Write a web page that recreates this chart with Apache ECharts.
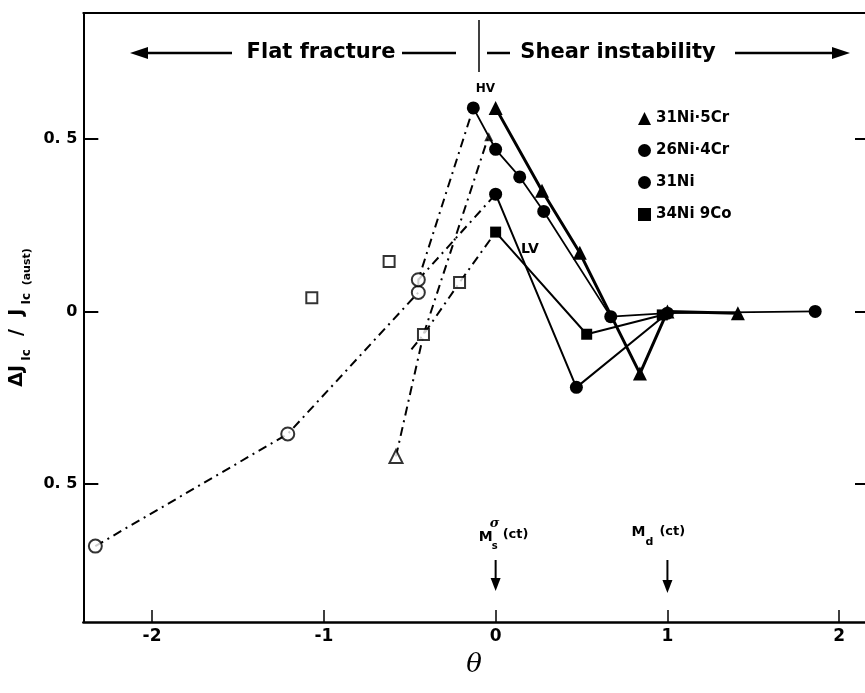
<!DOCTYPE html>
<html>
<head>
<meta charset="utf-8">
<script src="https://cdn.jsdelivr.net/npm/echarts@6/dist/echarts.min.js"></script>
<style>
html, body { margin: 0; padding: 0; background: #fff; }
#main { width: 865px; height: 693px; }
</style>
</head>
<body>
<div id="main"></div>
<script>
var xTicks = [-2, -1, 0, 1, 2];
var yTicks = [-0.5, 0, 0.5];

// filled symbols, solid lines
var ni5cr = [[0, 0.59], [0.27, 0.35], [0.49, 0.17], [0.84, -0.18], [1.0, 0.0], [1.41, -0.005]];
var ni4cr = [[-0.13, 0.59], [0, 0.47], [0.14, 0.39], [0.28, 0.29], [0.67, -0.015], [1.0, -0.005], [1.86, 0]];
var ni4crNoMark = [5];
var ni31 = [[0, 0.34], [0.47, -0.22], [1.0, -0.005]];
var ni9co = [[0, 0.23], [0.53, -0.066], [0.97, -0.01]];
var smallTri = [[-0.04, 0.506]];

// open symbols, dash-dot lines
var ddCircle = [[-2.33, -0.68], [-1.21, -0.355], [-0.45, 0.055], [-0.45, 0.092], [-0.13, 0.59]];
var ddTriangle = [[-0.58, -0.42], [-0.42, -0.067], [-0.04, 0.51]];
var ddSquare = [[-0.49, -0.11], [-0.42, -0.067], [-0.21, 0.084], [0, 0.23]];
var ddCircle2 = [[-0.45, 0.092], [0, 0.34]];
var openCircles = [[-2.33, -0.68], [-1.21, -0.355], [-0.45, 0.055], [-0.45, 0.092]];
var openSquares = [[-1.07, 0.04], [-0.62, 0.145], [-0.42, -0.067], [-0.21, 0.084]];
var openTriangles = [[-0.58, -0.42]];

var legendNames = ['31Ni·5Cr', '26Ni·4Cr', '31Ni', '34Ni 9Co'];
var legendIcons = ['triangle', 'circle', 'circle', 'rect'];

var chart = echarts.init(document.getElementById('main'));

var dashDot = [9, 5, 2, 5];
var lblFont = 'DejaVu Sans';

function solid(name, data, symbol, size, width) {
    return {
        name: name, type: 'line', data: data,
        symbol: symbol, symbolSize: size, z: 3,
        itemStyle: { color: '#000' },
        lineStyle: { color: '#000', width: width }
    };
}
function dd(data) {
    return {
        type: 'line', data: data, symbol: 'none', z: 2,
        lineStyle: { color: '#000', width: 2, type: dashDot }
    };
}
function open(data, symbol, size) {
    return {
        type: 'scatter', data: data, symbol: symbol, symbolSize: size, z: 4,
        itemStyle: { color: '#fff', borderColor: '#000', borderWidth: 2 }
    };
}

var ni4crData = ni4cr.map(function (p, i) {
    return ni4crNoMark.indexOf(i) >= 0 ? { value: p, symbol: 'none' } : p;
});

var option = {
    animation: false,
    backgroundColor: '#fff',
    grid: { left: 83, right: 0, top: 13, bottom: 71 },
    legend: {
        data: legendNames.map(function (n, i) { return { name: n, icon: legendIcons[i] }; }),
        orient: 'vertical',
        left: 633, top: 106,
        itemWidth: 13, itemHeight: 13, itemGap: 17,
        textStyle: { color: '#000', fontSize: 15, fontWeight: 'bold', fontFamily: lblFont }
    },
    xAxis: [{
        type: 'value', min: -2.4, max: 2.15, position: 'bottom',
        name: 'θ', nameLocation: 'middle', nameGap: 30,
        nameTextStyle: { fontFamily: 'DejaVu Serif', fontStyle: 'italic', fontSize: 26, color: '#000' },
        axisLine: { onZero: false, lineStyle: { color: '#000', width: 2.5 } },
        axisTick: { inside: true, length: 12, customValues: xTicks, lineStyle: { color: '#000', width: 1.5 } },
        axisLabel: { customValues: xTicks, color: '#000', fontSize: 17, fontWeight: 'bold', fontFamily: lblFont, margin: 6 },
        splitLine: { show: false }
    }, {
        type: 'value', min: -2.4, max: 2.15, position: 'top',
        axisLine: { show: true, onZero: false, lineStyle: { color: '#000', width: 2 } },
        axisTick: { show: false }, axisLabel: { show: false }, splitLine: { show: false }
    }],
    yAxis: [{
        type: 'value', min: -0.9, max: 0.865, position: 'left',
        name: '{a|ΔJ}{s| Ic}{a|  /  J}{s| Ic}{t|  (aust)}',
        nameLocation: 'middle', nameRotate: 90, nameGap: 48,
        nameTextStyle: {
            color: '#000',
            rich: {
                a: { fontSize: 19, fontWeight: 'bold', fontFamily: lblFont, lineHeight: 30, color: '#000' },
                s: { fontSize: 12, fontWeight: 'bold', fontFamily: lblFont, lineHeight: 12, verticalAlign: 'bottom', color: '#000' },
                t: { fontSize: 11, fontWeight: 'bold', fontFamily: lblFont, lineHeight: 20, verticalAlign: 'bottom', color: '#000' }
            }
        },
        axisLine: { onZero: false, lineStyle: { color: '#000', width: 2 } },
        axisTick: { inside: true, length: 15, customValues: yTicks, lineStyle: { color: '#000', width: 2 } },
        axisLabel: {
            customValues: yTicks, color: '#000', fontSize: 16, fontWeight: 'bold', fontFamily: lblFont, margin: 6,
            formatter: function (v) { return v === 0 ? '0' : Math.abs(v).toFixed(1).replace('.', '. '); }
        },
        splitLine: { show: false }
    }, {
        type: 'value', min: -0.9, max: 0.865, position: 'right',
        axisLine: { show: false, onZero: false },
        axisTick: { show: true, inside: true, length: 10, customValues: yTicks, lineStyle: { color: '#000', width: 2 } },
        axisLabel: { show: false }, splitLine: { show: false }
    }],
    series: [
        solid(legendNames[0], ni5cr, 'triangle', 14, 3),
        solid(legendNames[1], ni4crData, 'circle', 13, 1.8),
        solid(legendNames[2], ni31, 'circle', 13, 2),
        solid(legendNames[3], ni9co, 'rect', 11, 2),
        {
            type: 'scatter', data: smallTri, symbol: 'triangle', symbolSize: 9, z: 4,
            itemStyle: { color: '#000' }
        },
        dd(ddCircle), dd(ddTriangle), dd(ddSquare), dd(ddCircle2),
        open(openCircles, 'circle', 13),
        open(openSquares, 'rect', 11),
        open(openTriangles, 'triangle', 13)
    ]
};

chart.setOption(option);

function px(x, y) { return chart.convertToPixel({ xAxisIndex: 0, yAxisIndex: 0 }, [x, y]); }

function txt(x, y, s, size, align, extra) {
    var st = {
        text: s, fill: '#000', fontSize: size, fontFamily: lblFont, fontWeight: 'bold',
        align: align || 'center', textAlign: align || 'center',
        verticalAlign: 'middle', textVerticalAlign: 'middle'
    };
    for (var k in (extra || {})) st[k] = extra[k];
    return { type: 'text', x: x, y: y, z: 10, style: st };
}
function seg(x1, y1, x2, y2, w) {
    return { type: 'line', z: 10, shape: { x1: x1, y1: y1, x2: x2, y2: y2 }, style: { stroke: '#000', lineWidth: w || 2.5 } };
}
function head(points) {
    return { type: 'polygon', z: 10, shape: { points: points }, style: { fill: '#000' } };
}

var x0 = px(0, 0)[0];
var x1 = px(1, 0)[0];
var hv = px(-0.06, 0.645);
var lv = px(0.2, 0.18);
var topY = 53;

var g = [
    // region arrows at the top
    head([[130, topY], [148, topY - 6], [148, topY + 6]]),
    seg(145, topY, 232, topY),
    txt(321, topY, 'Flat fracture', 21, 'center'),
    seg(402, topY, 456, topY),
    seg(479, 20, 479, 72, 1.5),
    seg(487, topY, 510, topY),
    txt(618, topY, 'Shear instability', 21, 'center'),
    seg(735, topY, 835, topY),
    head([[850, topY], [832, topY - 6], [832, topY + 6]]),
    // HV / LV
    txt(hv[0], hv[1], 'HV', 12, 'center'),
    txt(lv[0], lv[1], 'LV', 14, 'center'),
    // Ms sigma (ct)
    txt(x0 - 10, 537, 'M', 14, 'center'),
    txt(x0 - 1, 524, 'σ', 13, 'center', { fontFamily: 'DejaVu Serif', fontStyle: 'italic' }),
    txt(x0 - 1, 546, 's', 10, 'center'),
    txt(x0 + 7, 535, '(ct)', 13, 'left'),
    seg(x0, 560, x0, 580, 2),
    head([[x0, 591], [x0 - 5, 578], [x0 + 5, 578]]),
    // Md (ct)
    txt(x1 - 29, 532, 'M', 14, 'center'),
    txt(x1 - 18, 542, 'd', 11, 'center'),
    txt(x1 - 8, 532, '(ct)', 13, 'left'),
    seg(x1, 560, x1, 582, 2),
    head([[x1, 593], [x1 - 5, 580], [x1 + 5, 580]])
];

chart.setOption({ graphic: g });
</script>
</body>
</html>
